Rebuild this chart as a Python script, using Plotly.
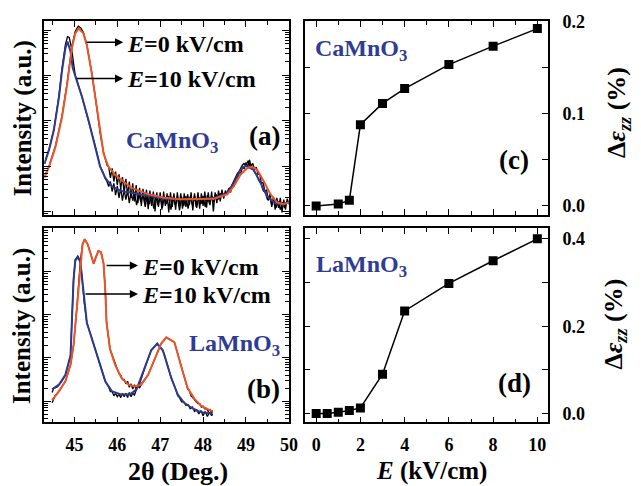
import plotly.graph_objects as go

# ---------------- data ----------------
# Panel (a) CaMnO3 XRD, log10(intensity)
a_red_x = [44.30, 44.41, 44.56, 44.71, 44.83, 44.94, 45.02, 45.10, 45.21, 45.29, 45.41, 45.52, 45.60, 45.68,
           45.79, 45.95, 46.18, 46.33, 46.72, 47.10, 47.49, 47.87, 48.26, 48.57, 48.72, 48.87, 49.03, 49.14,
           49.26, 49.41, 49.57, 49.72, 49.88, 50.00]
a_red_log = [0.74, 0.99, 1.43, 2.08, 2.80, 3.60, 3.93, 4.04, 3.93, 3.67, 3.02, 2.30, 1.72, 1.28,
             0.99, 0.81, 0.63, 0.52, 0.38, 0.30, 0.27, 0.27, 0.28, 0.38, 0.56, 0.81, 0.96, 0.98,
             0.92, 0.67, 0.38, 0.20, 0.16, 0.20]
a_blue_x = [44.30, 44.41, 44.52, 44.64, 44.71, 44.79, 44.84, 44.91, 44.96, 45.02, 45.18, 45.33, 45.49, 45.60,
            45.72, 45.87, 46.10, 46.33, 46.72, 47.10, 47.49, 47.87, 48.26, 48.57, 48.72, 48.87, 48.99,
            49.18, 49.34, 49.49, 49.65, 49.80, 50.00]
a_blue_log = [1.05, 1.36, 1.79, 2.52, 3.10, 3.60, 3.75, 3.53, 3.17, 2.99, 2.52, 2.01, 1.43, 0.99,
              0.74, 0.56, 0.45, 0.41, 0.34, 0.28, 0.27, 0.27, 0.30, 0.41, 0.63, 0.92, 1.01,
              0.92, 0.63, 0.34, 0.20, 0.16, 0.20]
a_raw0_x = [44.30, 44.41, 44.56, 44.71, 44.83, 44.94, 45.02, 45.09, 45.15, 45.21, 45.29, 45.41, 45.52, 45.60,
            45.68, 45.76, 45.80, 45.84, 45.88, 45.92, 45.96, 46.00, 46.04, 46.08, 46.12, 46.16, 46.20, 46.24,
            46.28, 46.32, 46.36, 46.40, 46.44, 46.48, 46.52, 46.56, 46.60, 46.64, 46.68, 46.72, 46.76, 46.80,
            46.84, 46.88, 46.92, 46.96, 47.00, 47.04, 47.08, 47.12, 47.16, 47.20, 47.24, 47.28, 47.32, 47.36,
            47.40, 47.44, 47.48, 47.52, 47.56, 47.60, 47.64, 47.68, 47.72, 47.76, 47.80, 47.84, 47.88, 47.92,
            47.96, 48.00, 48.04, 48.08, 48.12, 48.16, 48.20, 48.24, 48.28, 48.32, 48.36, 48.40, 48.44, 48.48,
            48.52, 48.56, 48.60, 48.64, 48.68, 48.72, 48.76, 48.80, 48.84, 48.88, 48.92, 48.96, 49.00, 49.04,
            49.08, 49.12, 49.16, 49.20, 49.24, 49.28, 49.32, 49.36, 49.40, 49.44, 49.48, 49.52, 49.56, 49.60,
            49.64, 49.68, 49.72, 49.76, 49.80, 49.84, 49.88, 49.92, 49.96, 50.00]
a_raw0_log = [0.76, 1.00, 1.45, 2.10, 2.83, 3.64, 3.98, 4.09, 4.05, 3.95, 3.68, 3.03, 2.31, 1.73,
              1.30, 1.02, 0.98, 0.74, 0.95, 0.66, 0.88, 0.58, 0.82, 0.50, 0.76, 0.42, 0.72, 0.36,
              0.66, 0.30, 0.62, 0.22, 0.58, 0.18, 0.52, 0.12, 0.50, 0.16, 0.48, 0.05, 0.46, 0.12,
              0.44, 0.00, 0.42, 0.10, 0.42, 0.04, 0.44, 0.12, 0.40, -0.02, 0.42, 0.10, 0.40, 0.04,
              0.42, 0.12, 0.40, 0.06, 0.40, 0.10, 0.38, 0.14, 0.42, 0.02, 0.40, 0.10, 0.42, 0.06,
              0.40, 0.12, 0.44, 0.08, 0.42, 0.14, 0.44, 0.00, 0.42, 0.18, 0.46, 0.22, 0.48, 0.28,
              0.46, 0.36, 0.50, 0.42, 0.58, 0.56, 0.74, 0.72, 0.86, 0.84, 0.99, 0.94, 1.08, 0.98,
              1.14, 1.00, 1.06, 0.92, 0.98, 0.82, 0.82, 0.62, 0.64, 0.44, 0.48, 0.24, 0.40, 0.10,
              0.32, 0.04, 0.30, 0.08, 0.30, -0.02, 0.26, 0.04, 0.28, 0.18]
a_raw10_x = [44.30, 44.41, 44.52, 44.64, 44.71, 44.79, 44.84, 44.88, 44.93, 44.97, 45.02, 45.18, 45.33, 45.49,
             45.60, 45.66, 45.72, 45.76, 45.80, 45.84, 45.88, 45.92, 45.96, 46.00, 46.04, 46.08, 46.12, 46.16,
             46.20, 46.24, 46.28, 46.32, 46.36, 46.40, 46.45, 46.50, 46.55, 46.60, 46.65, 46.70, 46.75, 46.80,
             46.85, 46.90, 46.95, 47.00, 47.05, 47.10, 47.15, 47.20, 47.25, 47.30, 47.35, 47.40, 47.45, 47.50,
             47.55, 47.60, 47.65, 47.70, 47.75, 47.80, 47.85, 47.90, 47.95, 48.00, 48.05, 48.10, 48.15, 48.20,
             48.25, 48.30, 48.35, 48.40, 48.45, 48.50, 48.55, 48.60, 48.65, 48.70, 48.75, 48.80, 48.85, 48.90,
             48.95, 49.00, 49.05, 49.10, 49.15, 49.20, 49.25, 49.30, 49.35, 49.40, 49.45, 49.50, 49.55, 49.60,
             49.65, 49.70, 49.75, 49.80, 49.85, 49.90, 49.95, 50.00]
a_raw10_log = [1.05, 1.38, 1.80, 2.55, 3.15, 3.68, 3.86, 3.84, 3.62, 3.30, 3.00, 2.52, 2.01, 1.43,
               0.99, 0.88, 0.72, 0.66, 0.55, 0.66, 0.44, 0.62, 0.36, 0.56, 0.30, 0.52, 0.24, 0.48,
               0.26, 0.46, 0.18, 0.44, 0.24, 0.42, 0.14, 0.40, 0.20, 0.38, 0.10, 0.36, 0.16, 0.36,
               0.06, 0.34, 0.14, 0.34, 0.08, 0.32, 0.16, 0.34, 0.04, 0.32, 0.14, 0.33, 0.02, 0.32,
               0.12, 0.34, 0.06, 0.33, 0.14, 0.34, 0.08, 0.32, 0.16, 0.34, 0.10, 0.36, 0.16, 0.34,
               0.20, 0.38, 0.26, 0.40, 0.34, 0.40, 0.40, 0.50, 0.54, 0.64, 0.72, 0.84, 0.90, 1.00,
               1.06, 1.02, 1.12, 0.98, 0.97, 0.86, 0.80, 0.68, 0.62, 0.46, 0.42, 0.26, 0.34, 0.14,
               0.26, 0.08, 0.22, 0.04, 0.20, 0.08, 0.22, 0.16]

# Panel (b) LaMnO3 XRD
b_red_x = [44.48, 44.64, 44.79, 44.91, 44.98, 45.06, 45.14, 45.19, 45.24, 45.31, 45.39, 45.45, 45.50, 45.56,
           45.62, 45.68, 45.72, 45.75, 45.83, 45.95, 46.10, 46.26, 46.41, 46.56, 46.72, 46.87, 47.02, 47.14,
           47.33, 47.49, 47.64, 47.80, 47.95, 48.11, 48.22]
b_red_log = [0.02, 0.23, 0.46, 0.84, 1.29, 2.20, 3.26, 3.64, 3.76, 3.64, 3.38, 3.19, 3.34, 3.49,
             3.46, 3.19, 2.58, 1.82, 1.21, 0.84, 0.53, 0.38, 0.34, 0.38, 0.61, 0.99, 1.33, 1.48,
             1.37, 0.80, 0.30, 0.05, -0.11, -0.19, -0.24]
b_blue_x = [44.48, 44.64, 44.79, 44.91, 44.94, 44.98, 45.02, 45.08, 45.14, 45.18, 45.23, 45.29, 45.41, 45.52,
            45.60, 45.72, 45.87, 46.10, 46.29, 46.45, 46.64, 46.79, 46.93, 47.06, 47.10, 47.26, 47.41, 47.56,
            47.72, 47.87, 48.02, 48.22]
b_blue_log = [0.27, 0.38, 0.61, 1.06, 1.82, 2.81, 3.26, 3.34, 3.23, 2.81, 2.28, 1.82, 1.44, 1.06,
              0.84, 0.46, 0.23, 0.15, 0.15, 0.27, 0.76, 1.18, 1.33, 1.18, 1.06, 0.53, 0.15, -0.04,
              -0.15, -0.23, -0.27, -0.29]
b_raw0_x = [44.48, 44.55, 44.64, 44.79, 44.91, 44.98, 45.06, 45.14, 45.19, 45.24, 45.31, 45.39, 45.45, 45.50,
            45.56, 45.62, 45.68, 45.72, 45.75, 45.83, 45.95, 46.00, 46.04, 46.08, 46.12, 46.16, 46.20, 46.24,
            46.28, 46.32, 46.36, 46.40, 46.44, 46.48, 46.52, 46.56, 46.72, 46.87, 47.02, 47.14, 47.33, 47.41,
            47.49, 47.56, 47.60, 47.64, 47.68, 47.72, 47.76, 47.80, 47.84, 47.88, 47.92, 47.96, 48.00, 48.04,
            48.08, 48.12, 48.16, 48.20, 48.22]
b_raw0_log = [-0.04, 0.12, 0.22, 0.46, 0.84, 1.29, 2.20, 3.26, 3.64, 3.76, 3.64, 3.38, 3.19, 3.34,
              3.49, 3.46, 3.19, 2.58, 1.82, 1.21, 0.84, 0.74, 0.64, 0.60, 0.50, 0.50, 0.40, 0.46,
              0.32, 0.40, 0.28, 0.38, 0.28, 0.37, 0.30, 0.40, 0.61, 0.99, 1.33, 1.48, 1.37, 1.10,
              0.80, 0.55, 0.42, 0.28, 0.24, 0.12, 0.08, 0.02, -0.02, -0.06, -0.06, -0.14, -0.12, -0.18,
              -0.18, -0.24, -0.20, -0.28, -0.22]
b_raw10_x = [44.48, 44.52, 44.60, 44.70, 44.79, 44.91, 44.94, 44.98, 45.02, 45.08, 45.14, 45.18, 45.23, 45.29,
             45.41, 45.52, 45.60, 45.72, 45.80, 45.84, 45.88, 45.92, 45.96, 46.00, 46.04, 46.08, 46.12, 46.16,
             46.20, 46.24, 46.28, 46.32, 46.36, 46.40, 46.45, 46.52, 46.64, 46.79, 46.93, 47.06, 47.10, 47.26,
             47.35, 47.41, 47.45, 47.50, 47.55, 47.60, 47.65, 47.70, 47.75, 47.80, 47.85, 47.90, 47.95, 48.00,
             48.05, 48.10, 48.15, 48.20, 48.22]
b_raw10_log = [0.20, 0.30, 0.33, 0.45, 0.60, 1.06, 1.82, 2.81, 3.28, 3.37, 3.25, 2.81, 2.28, 1.82,
               1.44, 1.06, 0.84, 0.46, 0.32, 0.22, 0.22, 0.12, 0.18, 0.10, 0.16, 0.08, 0.18, 0.10,
               0.18, 0.08, 0.20, 0.10, 0.18, 0.14, 0.28, 0.40, 0.76, 1.18, 1.34, 1.18, 1.06, 0.53,
               0.30, 0.12, 0.08, -0.02, -0.02, -0.10, -0.08, -0.18, -0.14, -0.24, -0.20, -0.30, -0.22, -0.34,
               -0.24, -0.36, -0.26, -0.34, -0.30]

# Panels (c) and (d): strain vs field
E_c = [0, 1, 1.5, 2, 3, 4, 6, 8, 10]
strain_c = [0.0, 0.002, 0.006, 0.088, 0.111, 0.127, 0.153, 0.173, 0.192]
E_d = [0, 0.5, 1, 1.5, 2, 3, 4, 6, 8, 10]
strain_d = [0.0, 0.0, 0.003, 0.007, 0.013, 0.090, 0.235, 0.298, 0.350, 0.400]

theta_ticks = [45, 46, 47, 48, 49, 50]
E_ticks = [0, 2, 4, 6, 8, 10]

# ---------------- styling ----------------
RED = '#EE5327'
BLUE = '#2D3A8F'
TXTBLUE = '#2F3C94'
FONT = 'Liberation Serif'
W, H = 641, 486


def lin(v):
    return [10 ** x for x in v]


fig = go.Figure()


def add_xrd(x, logv, color, width, xa, ya):
    fig.add_trace(go.Scatter(x=x, y=lin(logv), mode='lines', line=dict(color=color, width=width),
                             xaxis=xa, yaxis=ya, showlegend=False, hoverinfo='skip'))


add_xrd(a_raw0_x, a_raw0_log, 'black', 1.3, 'x', 'y')
add_xrd(a_raw10_x, a_raw10_log, 'black', 1.3, 'x', 'y')
add_xrd(a_blue_x, a_blue_log, BLUE, 2, 'x', 'y')
add_xrd(a_red_x, a_red_log, RED, 2, 'x', 'y')

add_xrd(b_raw0_x, b_raw0_log, 'black', 1.3, 'x2', 'y2')
add_xrd(b_raw10_x, b_raw10_log, 'black', 1.3, 'x2', 'y2')
add_xrd(b_blue_x, b_blue_log, BLUE, 2, 'x2', 'y2')
add_xrd(b_red_x, b_red_log, RED, 2, 'x2', 'y2')

for E, s, xa, ya in [(E_c, strain_c, 'x3', 'y3'), (E_d, strain_d, 'x4', 'y4')]:
    fig.add_trace(go.Scatter(x=E, y=s, mode='lines+markers', xaxis=xa, yaxis=ya,
                             line=dict(color='black', width=1.5),
                             marker=dict(symbol='square', size=9, color='black'),
                             showlegend=False, hoverinfo='skip'))

tickfont = dict(family=FONT, size=18, color='black', weight='bold')
common = dict(showline=True, linecolor='black', linewidth=1.5, mirror='ticks', ticks='inside',
              tickcolor='black', tickwidth=1.2, ticklen=6, showgrid=False, zeroline=False,
              tickfont=tickfont)

xdomL = [45 / W, 293 / W]
xdomR = [309 / W, 556 / W]
ydomT = [1 - 210 / H, 1 - 12 / H]
ydomB = [1 - 422 / H, 1 - 224 / H]

xrd_x = dict(common, range=[44.3, 50.0], tickvals=theta_ticks, ticklabelstandoff=5,
             minor=dict(tickvals=[44.5, 45.5, 46.5, 47.5, 48.5, 49.5], ticks='inside', ticklen=4,
                        tickcolor='black', tickwidth=1.2))


def log_minor(lo, hi):
    vals = []
    for d in range(lo, hi + 1):
        for m in range(2, 10):
            vals.append(m * 10 ** d)
    return vals


yaxis_a = dict(common, type='log', range=[-0.072, 4.21], tickvals=[1, 10, 100, 1000, 10000],
               showticklabels=False, ticklen=7,
               minor=dict(tickvals=log_minor(-1, 4), ticks='inside', ticklen=4, tickcolor='black',
                          tickwidth=1))
yaxis_b = dict(common, type='log', range=[-0.494, 4.01], tickvals=[1, 10, 100, 1000, 10000],
               showticklabels=False, ticklen=7,
               minor=dict(tickvals=log_minor(-1, 4), ticks='inside', ticklen=4, tickcolor='black',
                          tickwidth=1))

E_x = dict(common, range=[-0.52, 10.49], tickvals=E_ticks, ticklabelstandoff=5,
           minor=dict(tickvals=[1, 3, 5, 7, 9], ticks='inside', ticklen=4, tickcolor='black', tickwidth=1.2))

fig.update_layout(
    width=W, height=H, margin=dict(l=0, r=0, t=0, b=0),
    paper_bgcolor='white', plot_bgcolor='white',
    xaxis=dict(xrd_x, domain=xdomL, anchor='y', showticklabels=False),
    yaxis=dict(yaxis_a, domain=ydomT, anchor='x'),
    xaxis2=dict(xrd_x, domain=xdomL, anchor='y2'),
    yaxis2=dict(yaxis_b, domain=ydomB, anchor='x2'),
    xaxis3=dict(E_x, domain=xdomR, anchor='y3', showticklabels=False),
    yaxis3=dict(common, domain=ydomT, anchor='x3', side='right', range=[-0.0095, 0.2005],
                tickvals=[0.0, 0.1, 0.2], ticktext=['0.0', '0.1', '0.2'], ticklabelstandoff=9,
                minor=dict(tickvals=[0.05, 0.15], ticks='inside', ticklen=6, tickcolor='black', tickwidth=1.2)),
    xaxis4=dict(E_x, domain=xdomR, anchor='y4'),
    yaxis4=dict(common, domain=ydomB, anchor='x4', side='right', range=[-0.020, 0.424],
                tickvals=[0.0, 0.2, 0.4], ticktext=['0.0', '0.2', '0.4'], ticklabelstandoff=9,
                minor=dict(tickvals=[0.1, 0.3], ticks='inside', ticklen=6, tickcolor='black', tickwidth=1.2)),
)


def px(x, y):
    return x / W, 1 - y / H


anns = []


def text(x, y, s, size, color='black', xanchor='center', angle=0):
    xx, yy = px(x, y)
    anns.append(dict(x=xx, y=yy, xref='paper', yref='paper', text=s, showarrow=False,
                     xanchor=xanchor, yanchor='middle', textangle=angle,
                     font=dict(family=FONT, size=size, color=color)))


def arrow(x0, x1, y):
    xx, yy = px(x1, y)
    anns.append(dict(x=xx, y=yy, xref='paper', yref='paper', ax=x0 - x1, ay=0, axref='pixel',
                     ayref='pixel', text='', showarrow=True, arrowhead=2, arrowsize=1.1,
                     arrowwidth=1.5, arrowcolor='black'))


# panel (a)
arrow(87, 125, 34)
arrow(77, 125, 71)
text(127, 36, '<b><i>E</i>=0 kV/cm</b>', 24, xanchor='left')
text(127, 71, '<b><i>E</i>=10 kV/cm</b>', 24, xanchor='left')
text(174, 136, '<b>CaMnO<sub>3</sub></b>', 24, TXTBLUE)
text(268, 130, '<b>(a)</b>', 27)
# panel (b)
arrow(107, 140, 262)
arrow(86, 140, 291)
text(142, 263, '<b><i>E</i>=0 kV/cm</b>', 24, xanchor='left')
text(142, 292, '<b><i>E</i>=10 kV/cm</b>', 24, xanchor='left')
text(238, 343, '<b>LaMnO<sub>3</sub></b>', 24, TXTBLUE)
text(267, 388, '<b>(b)</b>', 27)
# panel (c)
text(366, 42, '<b>CaMnO<sub>3</sub></b>', 24, TXTBLUE)
text(521, 154, '<b>(c)</b>', 27)
# panel (d)
text(367, 262, '<b>LaMnO<sub>3</sub></b>', 24, TXTBLUE)
text(522, 382, '<b>(d)</b>', 27)
# axis titles
text(23, 112, '<b>Intensity (a.u.)</b>', 25, angle=-90)
text(23, 324, '<b>Intensity (a.u.)</b>', 25, angle=-90)
text(181, 472, '<b>2θ (Deg.)</b>', 26)
text(438, 472, '<b><i>E</i> (kV/cm)</b>', 25)
text(627, 106, '<b>Δ<i>ε</i><sub><i>zz</i></sub> (%)</b>', 26, angle=-90)
text(624, 322, '<b>Δ<i>ε</i><sub><i>zz</i></sub> (%)</b>', 26, angle=-90)

fig.update_layout(annotations=anns)
fig.write_html('out.html')
